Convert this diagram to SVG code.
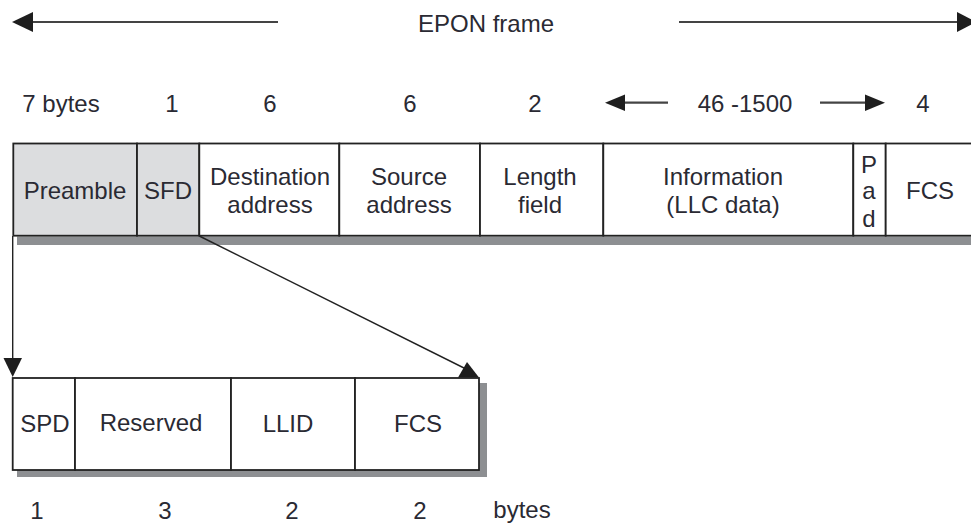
<svg xmlns="http://www.w3.org/2000/svg" width="971" height="524" viewBox="0 0 971 524">
<style>
text{font-family:"Liberation Sans",Arial,sans-serif;font-size:24px;fill:#2a2a33;text-anchor:middle}
.cell{stroke:#222;stroke-width:1.8;fill:#fff}
.grey{fill:#dcdddf}
.shadow{fill:#8d8f92}
.conn{stroke:#222;stroke-width:1.4;fill:none}
.dim{stroke:#444;stroke-width:2.2;fill:none}
.head{fill:#1e1e1e}
</style>
<g id="top-arrow">
<line class="dim" x1="30" y1="22" x2="278" y2="22"/>
<polygon class="head" points="12,22 33,12 33,32"/>
<line class="dim" x1="679" y1="22" x2="960" y2="22"/>
<polygon class="head" points="957,12 957,32 976,22"/>
<text x="486" y="32">EPON frame</text>
</g>
<g id="top-sizes">
<text x="61" y="112">7 bytes</text>
<text x="172" y="112">1</text>
<text x="270" y="112">6</text>
<text x="410" y="112">6</text>
<text x="535" y="112">2</text>
<text x="745" y="112">46 -1500</text>
<text x="923" y="112">4</text>
<line class="dim" x1="622" y1="102.7" x2="668" y2="102.7"/>
<polygon class="head" points="605,102.7 625,94.5 625,111"/>
<line class="dim" x1="820" y1="102.7" x2="868" y2="102.7"/>
<polygon class="head" points="885,102.7 865,94.5 865,111"/>
</g>
<g id="frame-shadow">
<rect class="shadow" x="17" y="236.5" width="960" height="8.5"/>
</g>
<g id="preamble"><rect class="cell grey" x="13.3" y="143.5" width="123.7" height="92.2"/><text x="75" y="199">Preamble</text></g>
<g id="sfd"><rect class="cell grey" x="137" y="143.5" width="62.3" height="92.2"/><text x="168" y="199">SFD</text></g>
<g id="dest"><rect class="cell" x="199.3" y="143.5" width="140" height="92.2"/><text x="270" y="185">Destination</text><text x="270" y="212.5">address</text></g>
<g id="src"><rect class="cell" x="339.3" y="143.5" width="140.7" height="92.2"/><text x="409" y="185">Source</text><text x="409" y="212.5">address</text></g>
<g id="length"><rect class="cell" x="480" y="143.5" width="123.3" height="92.2"/><text x="540" y="185">Length</text><text x="540" y="212.5">field</text></g>
<g id="info"><rect class="cell" x="603.3" y="143.5" width="250" height="92.2"/><text x="723" y="185">Information</text><text x="723" y="212.5">(LLC data)</text></g>
<g id="pad"><rect class="cell" x="853.3" y="143.5" width="32.4" height="92.2"/><text x="869" y="173">P</text><text x="869" y="199">a</text><text x="869" y="226.5">d</text></g>
<g id="fcs"><rect class="cell" x="885.7" y="143.5" width="100" height="92.2"/><text x="930" y="199">FCS</text></g>
<g id="sub-shadow">
<rect class="shadow" x="17" y="383" width="470" height="94"/>
</g>
<g id="spd"><rect class="cell" x="12.7" y="378" width="62.3" height="92"/><text x="45" y="432">SPD</text></g>
<g id="reserved"><rect class="cell" x="75" y="378" width="156" height="92"/><text x="151" y="431">Reserved</text></g>
<g id="llid"><rect class="cell" x="231" y="378" width="124" height="92"/><text x="288" y="432">LLID</text></g>
<g id="fcs2"><rect class="cell" x="355" y="378" width="124" height="92"/><text x="418" y="432">FCS</text></g>
<g id="connectors">
<line class="conn" x1="12.7" y1="236" x2="12.7" y2="360"/>
<polygon class="head" points="3.5,358 22,358 12.7,377"/>
<line class="conn" x1="199.3" y1="236" x2="468" y2="370"/>
<polygon class="head" points="458,377.5 467,362 479,377.5"/>
</g>
<g id="bottom-sizes">
<text x="37" y="519">1</text>
<text x="165" y="519">3</text>
<text x="292" y="519">2</text>
<text x="420" y="519">2</text>
<text x="522" y="518">bytes</text>
</g>
</svg>
